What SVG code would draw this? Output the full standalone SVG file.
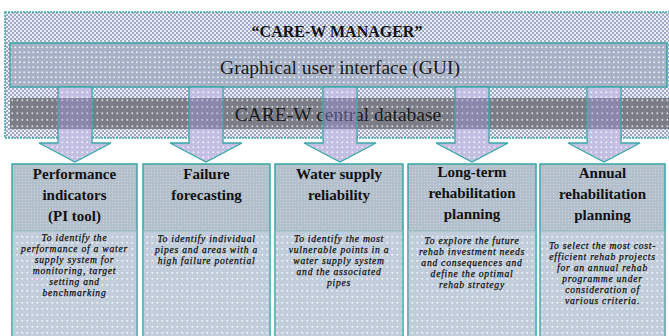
<svg xmlns="http://www.w3.org/2000/svg" width="669" height="336" viewBox="0 0 669 336">
  <defs>
    <!-- fine checker used for the outer manager frame -->
    <pattern id="chk" width="4" height="4" patternUnits="userSpaceOnUse">
      <rect width="4" height="4" fill="#eceff5"/>
      <rect x="0" y="0" width="2" height="2" fill="#9da8c5"/>
      <rect x="2" y="2" width="2" height="2" fill="#9da8c5"/>
    </pattern>
    <!-- dotted fills -->
    <pattern id="gui" width="4.5" height="5" patternUnits="userSpaceOnUse">
      <rect width="4.5" height="5" fill="#a7b1c6"/>
      <rect x="1" y="1.5" width="1.6" height="1.6" fill="#f4f6fa"/>
    </pattern>
    <pattern id="db" width="5" height="6.5" patternUnits="userSpaceOnUse">
      <rect width="5" height="6.5" fill="#7a7d86"/>
      <rect x="1.5" y="2" width="1.6" height="1.6" fill="#e9ebf0"/>
    </pattern>
    <pattern id="lav" width="5" height="5" patternUnits="userSpaceOnUse">
      <rect width="5" height="5" fill="#c3bfe3"/>
      <rect x="1.5" y="1.5" width="1.6" height="1.6" fill="#f6f5fc"/>
    </pattern>
    <pattern id="head" width="3" height="3" patternUnits="userSpaceOnUse">
      <rect width="3" height="3" fill="#b3bfcb"/>
      <rect x="1" y="1" width="1" height="1" fill="#ccd4dd"/>
    </pattern>
    <pattern id="body" width="5" height="6" patternUnits="userSpaceOnUse">
      <rect width="5" height="6" fill="#c2cddb"/>
      <rect x="1.5" y="2" width="1.6" height="1.6" fill="#f3f6fa"/>
    </pattern>
    <style>
      .frame { stroke: #3aa6a6; stroke-width: 1.5; }
      .title { font-family: "Liberation Serif", "Times New Roman", serif; font-weight: bold; font-size: 16px; fill: #111; text-anchor: middle; }
      .band { font-family: "Liberation Serif", "Times New Roman", serif; font-size: 19.5px; fill: #1a1a1a; text-anchor: middle; }
      .hd { font-family: "Liberation Serif", "Times New Roman", serif; font-weight: bold; font-size: 15px; fill: #111; text-anchor: middle; }
      .bd { font-family: "Liberation Serif", "Times New Roman", serif; font-style: italic; font-size: 9.6px; letter-spacing: 0.75px; fill: #111; stroke: #111; stroke-width: 0.25px; text-anchor: middle; }
      .box { fill: url(#head); stroke: #3aa6a6; stroke-width: 1.5; }
      .boxbody { fill: url(#body); }
      .divider { stroke: #8fb6bc; stroke-width: 1.2; }
      .shaft { fill: url(#lav); }
      .shaft-db { fill: #a296e4; fill-opacity: 0.4; }
      .outline { fill: none; stroke: #3aa6a6; stroke-width: 1.3; stroke-linejoin: miter; }
    </style>
  </defs>

  <rect width="669" height="336" fill="#ffffff"/>

  <!-- CARE-W manager frame -->
  <g id="manager">
    <rect x="5" y="12" width="670" height="126" fill="url(#chk)" class="frame" stroke-dasharray="2 1"/>
    <text class="title" x="337" y="37">“CARE-W MANAGER”</text>
  </g>

  <!-- graphical user interface band -->
  <g id="gui">
    <rect x="10" y="43" width="657" height="44" fill="url(#gui)" class="frame"/>
    <text class="band" x="340" y="74">Graphical user interface (GUI)</text>
  </g>

  <!-- central database band -->
  <g id="database">
    <rect x="10" y="98" width="665" height="31" fill="url(#db)"/>
    <text class="band" x="338" y="121">CARE-W central database</text>
  </g>

  <!-- arrows from the manager down to each tool -->
  <g id="connectors">
    <g transform="translate(75 0)">
      <rect class="shaft" x="-17" y="87" width="34" height="11"/>
      <rect class="shaft-db" x="-17" y="98" width="34" height="31"/>
      <path class="shaft" d="M-17 129 H17 V143 H36 L0 162 L-36 143 H-17 Z"/>
      <path class="outline" d="M-17 87 H17 V143 H36 L0 162 L-36 143 H-17 Z"/>
    </g>
    <g transform="translate(206 0)">
      <rect class="shaft" x="-17" y="87" width="34" height="11"/>
      <rect class="shaft-db" x="-17" y="98" width="34" height="31"/>
      <path class="shaft" d="M-17 129 H17 V143 H36 L0 162 L-36 143 H-17 Z"/>
      <path class="outline" d="M-17 87 H17 V143 H36 L0 162 L-36 143 H-17 Z"/>
    </g>
    <g transform="translate(340 0)">
      <rect class="shaft" x="-17" y="87" width="34" height="11"/>
      <rect class="shaft-db" x="-17" y="98" width="34" height="31"/>
      <path class="shaft" d="M-17 129 H17 V143 H36 L0 162 L-36 143 H-17 Z"/>
      <path class="outline" d="M-17 87 H17 V143 H36 L0 162 L-36 143 H-17 Z"/>
    </g>
    <g transform="translate(472 0)">
      <rect class="shaft" x="-17" y="87" width="34" height="11"/>
      <rect class="shaft-db" x="-17" y="98" width="34" height="31"/>
      <path class="shaft" d="M-17 129 H17 V143 H36 L0 162 L-36 143 H-17 Z"/>
      <path class="outline" d="M-17 87 H17 V143 H36 L0 162 L-36 143 H-17 Z"/>
    </g>
    <g transform="translate(604 0)">
      <rect class="shaft" x="-17" y="87" width="34" height="11"/>
      <rect class="shaft-db" x="-17" y="98" width="34" height="31"/>
      <path class="shaft" d="M-17 129 H17 V143 H36 L0 162 L-36 143 H-17 Z"/>
      <path class="outline" d="M-17 87 H17 V143 H36 L0 162 L-36 143 H-17 Z"/>
    </g>
  </g>

  <!-- tool boxes -->
  <g id="pi-tool">
    <rect class="box" x="12" y="164" width="125" height="180"/>
    <rect class="boxbody" x="12.75" y="231" width="123.5" height="112"/>
    <line class="divider" x1="12" y1="231" x2="137" y2="231"/>
    <text class="hd" x="74.5" y="179">Performance</text>
    <text class="hd" x="74.5" y="200">indicators</text>
    <text class="hd" x="74.5" y="221">(PI tool)</text>
    <text class="bd" x="74.5" y="241">To identify the</text>
    <text class="bd" x="74.5" y="252">performance of a water</text>
    <text class="bd" x="74.5" y="263">supply system for</text>
    <text class="bd" x="74.5" y="274">monitoring, target</text>
    <text class="bd" x="74.5" y="285">setting and</text>
    <text class="bd" x="74.5" y="296">benchmarking</text>
  </g>

  <g id="failure-forecasting">
    <rect class="box" x="143" y="164" width="127" height="180"/>
    <rect class="boxbody" x="143.75" y="231" width="125.5" height="112"/>
    <line class="divider" x1="143" y1="231" x2="270" y2="231"/>
    <text class="hd" x="206.5" y="179">Failure</text>
    <text class="hd" x="206.5" y="200">forecasting</text>
    <text class="bd" x="206.5" y="242">To identify individual</text>
    <text class="bd" x="206.5" y="253">pipes and areas with a</text>
    <text class="bd" x="206.5" y="264">high failure potential</text>
  </g>

  <g id="water-supply-reliability">
    <rect class="box" x="275" y="164" width="128" height="180"/>
    <rect class="boxbody" x="275.75" y="231" width="126.5" height="112"/>
    <line class="divider" x1="275" y1="231" x2="403" y2="231"/>
    <text class="hd" x="339" y="179">Water supply</text>
    <text class="hd" x="339" y="200">reliability</text>
    <text class="bd" x="339" y="242">To identify the most</text>
    <text class="bd" x="339" y="253">vulnerable points in a</text>
    <text class="bd" x="339" y="264">water supply system</text>
    <text class="bd" x="339" y="275">and the associated</text>
    <text class="bd" x="339" y="286">pipes</text>
  </g>

  <g id="long-term-planning">
    <rect class="box" x="408" y="164" width="128" height="180"/>
    <rect class="boxbody" x="408.75" y="231" width="126.5" height="112"/>
    <line class="divider" x1="408" y1="231" x2="536" y2="231"/>
    <text class="hd" x="472" y="177">Long-term</text>
    <text class="hd" x="472" y="198">rehabilitation</text>
    <text class="hd" x="472" y="219">planning</text>
    <text class="bd" x="472" y="244">To explore the future</text>
    <text class="bd" x="472" y="255">rehab investment needs</text>
    <text class="bd" x="472" y="266">and consequences and</text>
    <text class="bd" x="472" y="277">define the optimal</text>
    <text class="bd" x="472" y="288">rehab strategy</text>
  </g>

  <g id="annual-planning">
    <rect class="box" x="540" y="164" width="125" height="180"/>
    <rect class="boxbody" x="540.75" y="231" width="123.5" height="112"/>
    <line class="divider" x1="540" y1="231" x2="665" y2="231"/>
    <text class="hd" x="602.5" y="178">Annual</text>
    <text class="hd" x="602.5" y="199">rehabilitation</text>
    <text class="hd" x="602.5" y="220">planning</text>
    <text class="bd" x="602.5" y="249">To select the most cost-</text>
    <text class="bd" x="602.5" y="260">efficient rehab projects</text>
    <text class="bd" x="602.5" y="271">for an annual rehab</text>
    <text class="bd" x="602.5" y="282">programme under</text>
    <text class="bd" x="602.5" y="293">consideration of</text>
    <text class="bd" x="602.5" y="304">various criteria.</text>
  </g>
</svg>
